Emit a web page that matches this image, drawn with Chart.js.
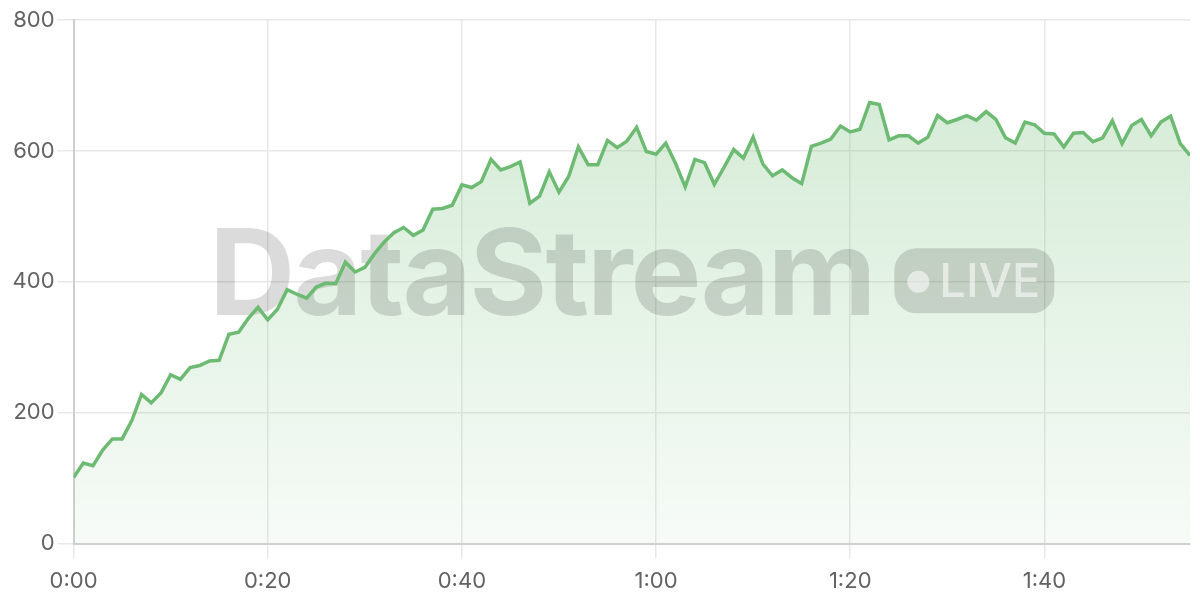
<!DOCTYPE html>
<html>
<head>
<meta charset="utf-8">
<script src="https://cdn.jsdelivr.net/npm/chart.js@4/dist/chart.umd.min.js"></script>
<style>
  html, body { margin: 0; padding: 0; background: #fff; }
  #wrap { width: 1200px; height: 600px; }
</style>
</head>
<body>
<div id="wrap"><canvas id="streamChart" width="1200" height="600"></canvas></div>
<script>
// values, one sample per second
const samples = [
    101, 123, 119, 143, 160, 160, 188, 228, 215, 230, 258, 251, 269, 272, 279, 280, 320, 323, 344, 361,
    342, 358, 388, 381, 375, 392, 398, 397, 430, 415, 422, 443, 461, 475, 483, 471, 479, 511, 512, 517,
    548, 544, 553, 587, 571, 576, 583, 520, 531, 568, 537, 561, 606, 579, 579, 616, 605, 615, 636, 599,
    595, 612, 581, 545, 587, 582, 549, 575, 602, 589, 621, 580, 562, 571, 559, 550, 607, 612, 618, 638,
    629, 633, 674, 671, 617, 623, 623, 612, 621, 654, 643, 648, 654, 647, 660, 648, 620, 612, 644, 640,
    627, 626, 606, 627, 628, 614, 620, 646, 611, 639, 648, 623, 644, 653, 611, 593
];
const sampleStep = 1; // seconds between samples
const xTickLabels = ['0:00', '0:20', '0:40', '1:00', '1:20', '1:40'];
const xTickStep = 20;
const yTickStep = 200;
const yMax = 800;

const lineGreen = '#6dbb72';
const watermarkText = 'DataStream';
const badgeText = 'LIVE';

const points = samples.map((v, i) => ({ x: i * sampleStep, y: v }));

// watermark drawn after the fill but before the line
const watermark = {
    id: 'watermark',
    beforeDatasetsDraw(chart) {
        const { ctx, chartArea } = chart;
        const cx = (chartArea.left + chartArea.right) / 2;
        const cy = (chartArea.top + chartArea.bottom) / 2;
        ctx.save();
        ctx.letterSpacing = '-2px';
        ctx.font = 'bold 119px Inter';
        const textW = ctx.measureText(watermarkText).width;
        const gap = 20, badgeW = 160, badgeH = 65;
        const total = textW + gap + badgeW;
        const left = cx - total / 2;
        const baseline = cy + 33;

        ctx.fillStyle = 'rgba(0,0,0,0.14)';
        ctx.textBaseline = 'alphabetic';
        ctx.textAlign = 'left';
        ctx.fillText(watermarkText, left, baseline);

        // badge
        const bx = left + textW + gap;
        const by = cy - badgeH / 2 - 1;
        ctx.beginPath();
        ctx.roundRect(bx, by, badgeW, badgeH, 22);
        ctx.fill();

        ctx.fillStyle = 'rgba(255,255,255,0.55)';
        ctx.beginPath();
        ctx.arc(bx + 24, by + badgeH / 2 + 1, 11, 0, Math.PI * 2);
        ctx.fill();
        ctx.letterSpacing = '0px';
        ctx.font = '500 47px Inter';
        ctx.textBaseline = 'middle';
        ctx.fillText(badgeText, bx + 45, by + badgeH / 2 + 2);
        ctx.restore();
    }
};

const ctx = document.getElementById('streamChart').getContext('2d');
ctx.letterSpacing = '2.5px'; // axis labels in the reference are set quite wide

new Chart(ctx, {
    type: 'line',
    data: {
        datasets: [{
            data: points,
            borderColor: lineGreen,
            borderWidth: 3.5,
            pointRadius: 0,
            tension: 0,
            fill: 'origin',
            backgroundColor: function (context) {
                const area = context.chart.chartArea;
                if (!area) return 'rgba(109,187,114,0.2)';
                const g = context.chart.ctx.createLinearGradient(0, area.top, 0, area.bottom);
                g.addColorStop(0, 'rgba(109,187,114,0.32)');
                g.addColorStop(1, 'rgba(109,187,114,0.06)');
                return g;
            }
        }]
    },
    options: {
        responsive: false,
        animation: false,
        devicePixelRatio: 1,
        layout: { padding: { top: 20, right: 10, bottom: -5, left: 9.6 } },
        scales: {
            x: {
                type: 'linear',
                min: 0,
                max: samples.length - 1,
                grid: { color: '#e8e8e8', lineWidth: 1.5, tickLength: 15 },
                border: { color: '#cfcfcf', width: 2 },
                ticks: {
                    stepSize: xTickStep,
                    includeBounds: false,
                    maxRotation: 0,
                    padding: 10,
                    color: '#626262',
                    font: { family: 'Inter', size: 22 },
                    callback: function (value) {
                        return xTickLabels[value / xTickStep];
                    }
                }
            },
            y: {
                min: 0,
                max: yMax,
                grid: { color: '#e8e8e8', lineWidth: 1.5, tickLength: 16 },
                border: { color: '#cfcfcf', width: 2 },
                ticks: {
                    stepSize: yTickStep,
                    padding: 3,
                    color: '#626262',
                    font: { family: 'Inter', size: 22 }
                }
            }
        },
        plugins: {
            legend: { display: false },
            tooltip: { enabled: false },
            filler: { drawTime: 'beforeDatasetsDraw' }
        }
    },
    plugins: [watermark]
});
</script>
</body>
</html>
